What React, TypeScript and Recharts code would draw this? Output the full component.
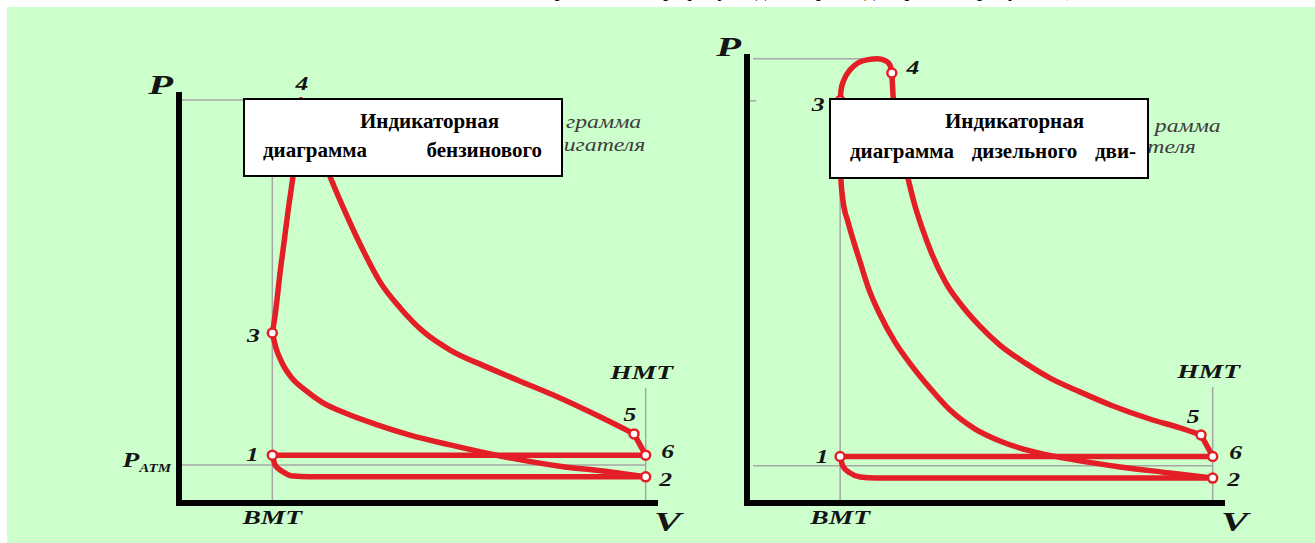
import React from 'react';
import { ComposedChart, Line, XAxis, YAxis, ReferenceLine, ReferenceDot } from 'recharts';

type Pt = { v: number; p: number };
type Marked = Pt & { name: string };

// volume in units where ВМТ = 20 and НМТ = 100, pressure in atmospheres
const V_BMT = 20;
const V_HMT = 100;
const V_MAX = 102;
const P_ATM = 1;

// --- petrol engine (left picture) ---
const petrolCombustion: Pt[] = [
  { v: 20, p: 4.48 }, { v: 20.6, p: 4.95 }, { v: 21, p: 5.35 }, { v: 21.6, p: 6.01 },
  { v: 22.3, p: 6.67 }, { v: 23.4, p: 7.72 }, { v: 24.4, p: 8.59 }, { v: 25.3, p: 9.57 },
  { v: 26.1, p: 10.62 },
];
const petrolExpansion: Pt[] = [
  { v: 26.1, p: 10.62 }, { v: 29.1, p: 9.64 }, { v: 32.4, p: 8.59 }, { v: 35.6, p: 7.67 },
  { v: 39.4, p: 6.67 }, { v: 43.1, p: 5.82 }, { v: 47.4, p: 5.14 }, { v: 52.7, p: 4.48 },
  { v: 58.1, p: 4.03 }, { v: 66, p: 3.58 }, { v: 73.1, p: 3.21 }, { v: 80.1, p: 2.85 },
  { v: 90.2, p: 2.27 }, { v: 97.5, p: 1.82 },
];
const petrolBlowdown: Pt[] = [{ v: 97.5, p: 1.82 }, { v: 100, p: 1.26 }];
const petrolExhaust: Pt[] = [{ v: 20, p: 1.26 }, { v: 100, p: 1.26 }];
const petrolIntake: Pt[] = [
  { v: 20, p: 1.26 }, { v: 20.6, p: 1.0 }, { v: 22.3, p: 0.82 }, { v: 24.4, p: 0.71 },
  { v: 27.9, p: 0.69 }, { v: 100, p: 0.69 },
];
const petrolCompression: Pt[] = [
  { v: 20, p: 4.48 }, { v: 20.8, p: 4.08 }, { v: 22.1, p: 3.69 }, { v: 24.2, p: 3.29 },
  { v: 27, p: 2.98 }, { v: 30.6, p: 2.66 }, { v: 35.6, p: 2.37 }, { v: 42, p: 2.08 },
  { v: 49.5, p: 1.79 }, { v: 58.1, p: 1.53 }, { v: 68.8, p: 1.24 }, { v: 81.6, p: 0.97 },
  { v: 92.4, p: 0.82 }, { v: 100, p: 0.69 },
];
const petrolPoints: Marked[] = [
  { name: '1', v: 20, p: 1.26 }, { name: '2', v: 100, p: 0.69 }, { name: '3', v: 20, p: 4.48 },
  { name: '4', v: 26.1, p: 10.62 }, { name: '5', v: 97.5, p: 1.82 }, { name: '6', v: 100, p: 1.26 },
];
const PETROL_P_MAX = 10.75;
const PETROL_P_TOP = 10.62;
const PETROL_V_TOP = 26.1;
const PETROL_HMT_TOP = 3.03;

// --- diesel engine (right picture) ---
const dieselCombustion: Pt[] = [
  { v: 20, p: 10.82 }, { v: 20.2, p: 11.11 }, { v: 20.8, p: 11.38 }, { v: 22.1, p: 11.65 },
  { v: 23.8, p: 11.84 }, { v: 26, p: 11.93 }, { v: 28.1, p: 11.95 }, { v: 29.9, p: 11.89 },
  { v: 30.7, p: 11.78 }, { v: 31.1, p: 11.57 },
];
const dieselExpansion: Pt[] = [
  { v: 31.1, p: 11.57 }, { v: 31.35, p: 10.98 }, { v: 31.8, p: 10.44 }, { v: 32.4, p: 9.9 },
  { v: 33.3, p: 9.36 }, { v: 34.6, p: 8.72 }, { v: 35.9, p: 8.07 }, { v: 37.6, p: 7.4 },
  { v: 39.7, p: 6.7 }, { v: 42.7, p: 5.92 }, { v: 46.2, p: 5.3 }, { v: 50, p: 4.76 },
  { v: 54.3, p: 4.25 }, { v: 59.7, p: 3.77 }, { v: 65.1, p: 3.36 }, { v: 71.5, p: 2.99 },
  { v: 78.6, p: 2.61 }, { v: 86.5, p: 2.26 }, { v: 93, p: 2.02 }, { v: 97.5, p: 1.83 },
];
const dieselBlowdown: Pt[] = [{ v: 97.5, p: 1.83 }, { v: 100, p: 1.25 }];
const dieselExhaust: Pt[] = [{ v: 20, p: 1.25 }, { v: 100, p: 1.25 }];
const dieselIntake: Pt[] = [
  { v: 20, p: 1.25 }, { v: 20.6, p: 0.99 }, { v: 22.1, p: 0.81 }, { v: 24.3, p: 0.7 },
  { v: 27.7, p: 0.67 }, { v: 100, p: 0.67 },
];
const dieselCompression: Pt[] = [
  { v: 20, p: 10.82 }, { v: 20.03, p: 9.5 }, { v: 20.18, p: 8.69 }, { v: 20.6, p: 8.15 },
  { v: 21.7, p: 7.56 }, { v: 22.8, p: 7.08 }, { v: 24.3, p: 6.48 }, { v: 26, p: 5.81 },
  { v: 28.6, p: 5.06 }, { v: 31.8, p: 4.33 }, { v: 35.4, p: 3.69 }, { v: 39.3, p: 3.09 },
  { v: 43.6, p: 2.5 }, { v: 49, p: 1.99 }, { v: 54.3, p: 1.67 }, { v: 60.8, p: 1.4 },
  { v: 69.4, p: 1.18 }, { v: 80.1, p: 0.97 }, { v: 90.8, p: 0.81 }, { v: 100, p: 0.67 },
];
const dieselPoints: Marked[] = [
  { name: '1', v: 20, p: 1.25 }, { name: '2', v: 100, p: 0.67 }, { name: '3', v: 20, p: 10.82 },
  { name: '4', v: 31.1, p: 11.57 }, { name: '5', v: 97.5, p: 1.83 }, { name: '6', v: 100, p: 1.25 },
];
const DIESEL_P_MAX = 12;
const DIESEL_P_TOP = 11.95;
const DIESEL_V_TOP = 28.1;
const DIESEL_HMT_TOP = 3.12;
const DIESEL_GUIDE_START = 1.3;

// texts
const PAGE_LINE = 'изображены на графику индикаторной диаграммы (рисунок 1)';
// the picture's own captions show only where the note boxes leave them uncovered
const PETROL_CAPTION = ['грамма', 'игателя'];
const DIESEL_CAPTION = ['рамма', 'теля'];
const PETROL_NOTE = ['Индикаторная', 'диаграмма бензинового'];
const DIESEL_NOTE = ['Индикаторная', 'диаграмма дизельного дви-'];

const RED = '#e41e26';
const GUIDE = '#a6a6a6';
const INK = '#141414';
const SERIF = '"Liberation Serif", "Times New Roman", serif';
const AXIS_LINE = { stroke: '#000', strokeWidth: 6, strokeLinecap: 'square' as const };

function Italic({ x, y, size, sx, anchor = 'middle', baseline, children }: any) {
  return (
    <text
      transform={`translate(${x} ${y}) scale(${sx} 1)`}
      textAnchor={anchor}
      dominantBaseline={baseline}
      fontFamily={SERIF}
      fontStyle="italic"
      fontWeight={700}
      fontSize={size}
      fill={INK}
    >
      {children}
    </text>
  );
}

type DiagramProps = {
  width: number;
  margin: { top: number; right: number; bottom: number; left: number };
  pMax: number;
  curves: Pt[][];
  points: Marked[];
  guides: { x: number; y: number }[][];
  hmtTop: number;
  offsets: Record<string, [number, number]>;
  bare: string[];
  showAtm: boolean;
};

function Diagram({ width, margin, pMax, curves, points, guides, hmtTop, offsets, bare, showAtm }: DiagramProps) {
  const drawPoint = (dp: any) => {
    const { cx, cy, payload, index } = dp;
    const [dx, dy] = offsets[payload.name];
    return (
      <g key={`pt-${index}`}>
        {!bare.includes(payload.name) && (
          <circle cx={cx} cy={cy} r={4.5} fill="#fff" stroke={RED} strokeWidth={2.5} />
        )}
        <Italic x={cx + dx} y={cy + dy} size={19} sx={1.35} baseline="central">
          {payload.name}
        </Italic>
      </g>
    );
  };

  const atmTick = (t: any) => (
    <text
      transform={`translate(${t.x - 8} ${t.y + 2}) scale(1.25 1)`}
      textAnchor="end"
      fontFamily={SERIF}
      fontStyle="italic"
      fontWeight={700}
      fill={INK}
    >
      <tspan fontSize={22}>P</tspan>
      <tspan fontSize={12} dy={5}>ATM</tspan>
    </text>
  );

  return (
    <ComposedChart width={width} height={543} margin={margin}>
      <XAxis
        type="number"
        dataKey="v"
        domain={[0, V_MAX]}
        ticks={[V_BMT]}
        interval={0}
        height={30}
        axisLine={AXIS_LINE}
        tickLine={false}
        tickSize={0}
        tickMargin={0}
        tick={(t: any) => (
          <Italic x={t.x} y={t.y + 21} size={19} sx={1.45}>
            ВМТ
          </Italic>
        )}
        label={{
          content: (l: any) => (
            <Italic x={l.viewBox.x + l.viewBox.width - 1} y={l.viewBox.y + 28} size={28} sx={1.45} anchor="start">
              V
            </Italic>
          ),
        }}
      />
      <YAxis
        type="number"
        dataKey="p"
        domain={[0, pMax]}
        width={30}
        axisLine={AXIS_LINE}
        tickLine={false}
        tickSize={0}
        tickMargin={0}
        ticks={showAtm ? [P_ATM] : undefined}
        interval={0}
        tick={showAtm ? atmTick : false}
        label={{
          content: (l: any) => (
            <Italic x={l.viewBox.x + l.viewBox.width - 6} y={l.viewBox.y - 1} size={28} sx={1.45} anchor="end">
              P
            </Italic>
          ),
        }}
      />
      {guides.map((seg, i) => (
        <ReferenceLine key={`g${i}`} segment={seg} stroke={GUIDE} strokeWidth={1.5} />
      ))}
      <ReferenceDot
        x={V_HMT}
        y={hmtTop}
        r={1}
        fill="none"
        stroke="none"
        label={{
          content: (l: any) => (
            <Italic x={l.viewBox.x + l.viewBox.width / 2 - 4} y={l.viewBox.y + l.viewBox.height / 2 - 9} size={19} sx={1.45}>
              НМТ
            </Italic>
          ),
        }}
      />
      {curves.map((c, i) => (
        <Line
          key={`c${i}`}
          data={c}
          dataKey="p"
          type="monotone"
          stroke={RED}
          strokeWidth={5.5}
          strokeLinecap="round"
          strokeLinejoin="round"
          dot={false}
          activeDot={false}
          isAnimationActive={false}
        />
      ))}
      <Line
        data={points}
        dataKey="p"
        type="linear"
        stroke="none"
        dot={drawPoint}
        activeDot={false}
        isAnimationActive={false}
      />
    </ComposedChart>
  );
}

function Caption({ right, top, text }: { right: number; top: number; text: string }) {
  return (
    <div
      style={{
        position: 'absolute',
        right,
        top,
        fontSize: 19,
        lineHeight: '19px',
        fontStyle: 'italic',
        color: '#3d3d3d',
        whiteSpace: 'nowrap',
        transform: 'scaleX(1.25)',
        transformOrigin: 'right center',
      }}
    >
      {text}
    </div>
  );
}

function NoteBox({ left, width, height, lines, indent, pad, lineWidth, secondTop }: any) {
  return (
    <div
      style={{
        position: 'absolute',
        left,
        top: 98,
        width,
        height,
        boxSizing: 'border-box',
        border: '2px solid #000',
        background: '#fff',
        fontWeight: 700,
        fontSize: 21,
        lineHeight: '21px',
        color: '#000',
      }}
    >
      <div style={{ position: 'absolute', left: indent, top: 11.4, whiteSpace: 'nowrap' }}>{lines[0]}</div>
      <div
        style={{
          position: 'absolute',
          left: pad,
          top: secondTop,
          width: lineWidth,
          textAlign: 'justify',
          textAlignLast: 'justify',
        }}
      >
        {lines[1]}
      </div>
    </div>
  );
}

export default function App() {
  const petrolGuides = [
    [{ x: 0, y: PETROL_P_TOP }, { x: PETROL_V_TOP, y: PETROL_P_TOP }],
    [{ x: V_BMT, y: 0 }, { x: V_BMT, y: PETROL_P_TOP }],
    [{ x: 0, y: P_ATM }, { x: V_HMT, y: P_ATM }],
    [{ x: V_HMT, y: 0 }, { x: V_HMT, y: PETROL_HMT_TOP }],
  ];
  const dieselGuides = [
    [{ x: DIESEL_GUIDE_START, y: DIESEL_P_TOP }, { x: DIESEL_V_TOP, y: DIESEL_P_TOP }],
    [{ x: 0, y: dieselPoints[2].p }, { x: 2, y: dieselPoints[2].p }],
    [{ x: V_BMT, y: 0 }, { x: V_BMT, y: dieselPoints[2].p }],
    [{ x: DIESEL_GUIDE_START, y: P_ATM }, { x: V_HMT, y: P_ATM }],
    [{ x: V_HMT, y: 0 }, { x: V_HMT, y: DIESEL_HMT_TOP }],
  ];

  return (
    <div
      style={{
        position: 'absolute',
        left: 0,
        top: 0,
        width: 1315,
        height: 543,
        overflow: 'hidden',
        background: '#fff',
        fontFamily: SERIF,
      }}
    >
      <div style={{ position: 'absolute', left: 514, top: -21, fontSize: 21, lineHeight: '21px', whiteSpace: 'nowrap', color: '#000' }}>
        {PAGE_LINE}
      </div>
      <div style={{ position: 'absolute', left: 7, top: 7, right: 0, bottom: 0, background: '#ccffcc' }} />

      <Caption right={674} top={112.1} text={PETROL_CAPTION[0]} />
      <Caption right={670} top={135.1} text={PETROL_CAPTION[1]} />
      <Caption right={94} top={116.1} text={DIESEL_CAPTION[0]} />
      <Caption right={119} top={137.1} text={DIESEL_CAPTION[1]} />

      <div style={{ position: 'absolute', left: 0, top: 0 }}>
        <Diagram
          width={700}
          margin={{ top: 95, right: 45, bottom: 10, left: 149 }}
          pMax={PETROL_P_MAX}
          curves={[petrolCompression, petrolCombustion, petrolExpansion, petrolBlowdown, petrolExhaust, petrolIntake]}
          points={petrolPoints}
          guides={petrolGuides}
          hmtTop={PETROL_HMT_TOP}
          offsets={{ '1': [-20, 0], '2': [20, 3], '3': [-19, 3], '4': [1, -16], '5': [-4, -19], '6': [22, -3] }}
          bare={['4']}
          showAtm
        />
      </div>
      <div style={{ position: 'absolute', left: 700, top: 0 }}>
        <Diagram
          width={615}
          margin={{ top: 57, right: 93, bottom: 10, left: 17 }}
          pMax={DIESEL_P_MAX}
          curves={[dieselCompression, dieselCombustion, dieselExpansion, dieselBlowdown, dieselExhaust, dieselIntake]}
          points={dieselPoints}
          guides={dieselGuides}
          hmtTop={DIESEL_HMT_TOP}
          offsets={{ '1': [-18, 0], '2': [21, 2], '3': [-22, 4], '4': [21, -5], '5': [-8, -18], '6': [23, -4] }}
          bare={[]}
          showAtm={false}
        />
      </div>

      <NoteBox left={243} width={320} height={79} lines={PETROL_NOTE} indent={115} pad={18} lineWidth={279} secondTop={40.4} />
      <NoteBox left={829} width={320} height={81} lines={DIESEL_NOTE} indent={114} pad={19} lineWidth={286} secondTop={41.4} />
    </div>
  );
}
